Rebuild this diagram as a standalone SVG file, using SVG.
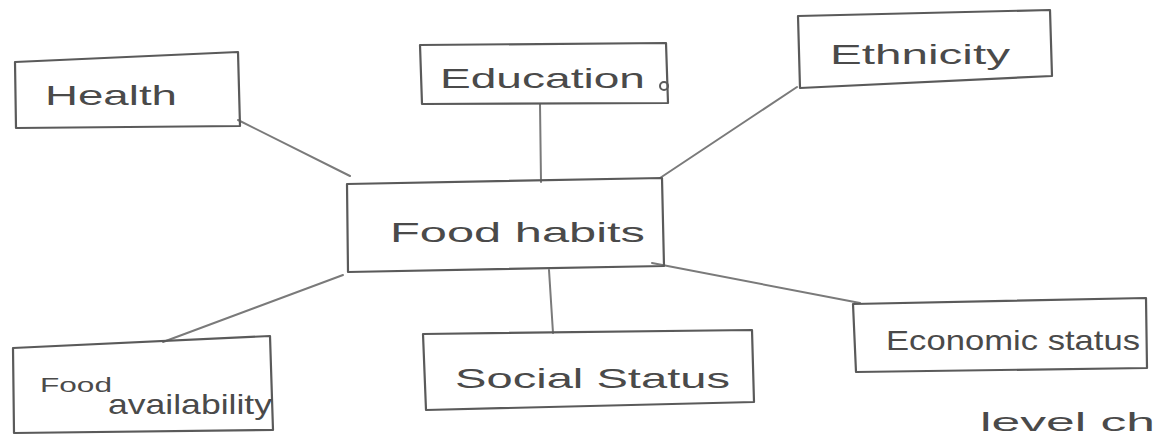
<svg xmlns="http://www.w3.org/2000/svg" width="1160" height="437" viewBox="0 0 1160 437">
<style>
.box{fill:none;stroke:#5a5a5a;stroke-width:2.2;stroke-linejoin:round}
.lbl{font-family:"Liberation Sans",Arial,sans-serif;fill:#4a4a4a;font-size:28px}
.edge{stroke:#7a7a7a;stroke-width:2;fill:none;stroke-linecap:round}
</style>
<rect width="1160" height="437" fill="#ffffff"/>
<g id="connectors">
<line class="edge" x1="238" y1="120" x2="350" y2="176"/>
<line class="edge" x1="540" y1="104" x2="541" y2="182"/>
<line class="edge" x1="797" y1="87" x2="660" y2="178"/>
<line class="edge" x1="343" y1="275" x2="163" y2="342"/>
<line class="edge" x1="549" y1="270" x2="553" y2="333"/>
<line class="edge" x1="652" y1="263" x2="860" y2="303"/>
</g>
<g id="health">
<path class="box" d="M15 62 L238 52 L240 126 L16 128 Z"/>
<text class="lbl" x="45" y="105" textLength="132" lengthAdjust="spacingAndGlyphs">Health</text>
</g>
<g id="education">
<path class="box" d="M420 45 L666 43 L668 103 L422 104 Z"/>
<text class="lbl" x="440" y="88" textLength="205" lengthAdjust="spacingAndGlyphs">Education</text>
<circle cx="664" cy="86" r="4" fill="none" stroke="#5a5a5a" stroke-width="2"/>
</g>
<g id="ethnicity">
<path class="box" d="M798 16 L1050 10 L1052 76 L800 88 Z"/>
<text class="lbl" x="830" y="64" textLength="180" lengthAdjust="spacingAndGlyphs">Ethnicity</text>
</g>
<g id="food-habits">
<path class="box" d="M347 184 L662 178 L664 266 L348 272 Z"/>
<text class="lbl" x="390" y="242" textLength="255" lengthAdjust="spacingAndGlyphs">Food habits</text>
</g>
<g id="food-availability">
<path class="box" d="M13 348 L270 336 L273 430 L14 433 Z"/>
<text class="lbl" x="40" y="392" style="font-size:20px" textLength="72" lengthAdjust="spacingAndGlyphs">Food</text>
<text class="lbl" x="108" y="414" textLength="164" lengthAdjust="spacingAndGlyphs">availability</text>
</g>
<g id="social-status">
<path class="box" d="M423 334 L752 330 L754 402 L426 410 Z"/>
<text class="lbl" x="455" y="388" textLength="275" lengthAdjust="spacingAndGlyphs">Social Status</text>
</g>
<g id="economic-status">
<path class="box" d="M853 304 L1146 298 L1147 368 L856 372 Z"/>
<text class="lbl" x="886" y="350" textLength="254" lengthAdjust="spacingAndGlyphs">Economic status</text>
</g>
<g id="level-note">
<text class="lbl" x="980" y="431" style="font-size:26px" textLength="175" lengthAdjust="spacingAndGlyphs">level ch</text>
</g>
</svg>
